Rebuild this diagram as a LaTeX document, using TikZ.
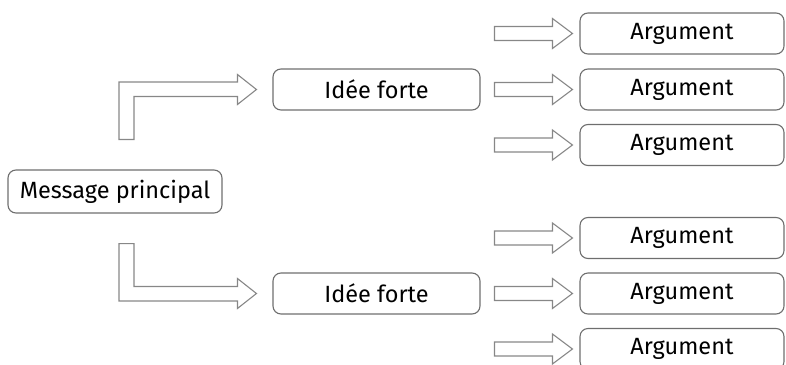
\documentclass[tikz,border=0pt]{standalone}
\usepackage{fontspec}
\setmainfont{Fira Sans}
\usepackage{tikz}
\usetikzlibrary{calc}

\definecolor{boxgray}{RGB}{110,110,110}
\definecolor{arrowgray}{RGB}{135,135,135}

% hollow arrow ending just before the west side of a node
\newcommand{\fatarrow}[1]{%
\draw [hollow] ($(#1.west)+(-85,-7)$) -- ($(#1.west)+(-27,-7)$) -- ($(#1.west)+(-27,-15)$) -- ($(#1.west)+(-7,0)$) -- ($(#1.west)+(-27,15)$) -- ($(#1.west)+(-27,7)$) -- ($(#1.west)+(-85,7)$) -- cycle;}

% bent hollow arrow: #1 anchor on the start node, #2 target node, #3 side (-1 up, 1 down)
\newcommand{\bentarrow}[3]{%
\draw [hollow] ($(#1)+(4,30*#3)$) -- ($(#1 |- #2.west)+(4,7.5*#3)$) -- ($(#2.west)+(-35,7.5*#3)$) -- ($(#2.west)+(-35,15*#3)$) -- ($(#2.west)+(-16,0)$) -- ($(#2.west)+(-35,-15*#3)$) -- ($(#2.west)+(-35,-7*#3)$) -- ($(#1 |- #2.west)+(19,-7*#3)$) -- ($(#1)+(19,30*#3)$) -- cycle;}

\begin{document}
\begin{tikzpicture}[x=1pt,y=-1pt]
\tikzstyle{every node}=[font=\fontsize{23.5}{27}\selectfont]
\tikzstyle{box}=[draw=boxgray, line width=1.1pt, rounded corners=8pt, minimum height=41pt, inner sep=0pt]
\tikzstyle{hollow}=[draw=arrowgray, line width=1.1pt, line join=miter]
\useasboundingbox (0,0) rectangle (786,364);

\node [box, minimum width=214pt, minimum height=43pt] (msg) at (115,191.5) {Message principal};

\node [box, minimum width=207pt] (idee1) at (376.5,89.5) {Idée forte};
\node [box, minimum width=207pt] (idee2) at (376.5,293.5) {Idée forte};

\node [box, minimum width=204pt] (arg1) at (682,33.5) {Argument};
\node [box, minimum width=204pt] (arg2) at (682,89.5) {Argument};
\node [box, minimum width=204pt] (arg3) at (682,145) {Argument};
\node [box, minimum width=204pt] (arg4) at (682,238) {Argument};
\node [box, minimum width=204pt] (arg5) at (682,293.5) {Argument};
\node [box, minimum width=204pt] (arg6) at (682,349) {Argument};

\bentarrow{msg.north}{idee1}{-1}
\bentarrow{msg.south}{idee2}{1}

\fatarrow{arg1}
\fatarrow{arg2}
\fatarrow{arg3}
\fatarrow{arg4}
\fatarrow{arg5}
\fatarrow{arg6}
\end{tikzpicture}
\end{document}
